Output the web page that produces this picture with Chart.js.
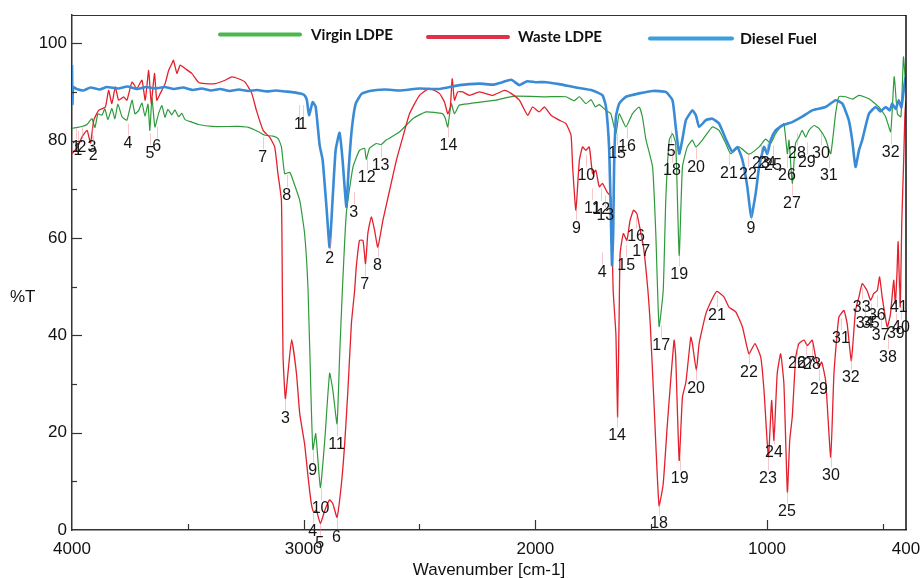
<!DOCTYPE html>
<html>
<head>
<meta charset="utf-8">
<script src="https://cdn.jsdelivr.net/npm/chart.js@4.4.1/dist/chart.umd.min.js"></script>
<style>
  html, body { margin: 0; padding: 0; background: #ffffff; }
  #wrap { width: 922px; height: 578px; position: relative; }
</style>
</head>
<body>
<div id="wrap"><canvas id="c" width="922" height="578"></canvas></div>
<script>
// ---------------- DATA ----------------
const seriesNames = ['Virgin LDPE', 'Waste LDPE', 'Diesel Fuel'];

const xTickValues = [4000, 3500, 3000, 2500, 2000, 1500, 1000, 500, 400];
const xTickLabels = ['4000', '', '3000', '', '2000', '', '1000', '', '400'];
const yTickValues = [0, 10, 20, 30, 40, 50, 60, 70, 80, 90, 100];
const yTickLabels = ['0', '', '20', '', '40', '', '60', '', '80', '', '100'];

// Virgin LDPE (green) : wavenumber / %T
const greenWn = [4000,3978,3957,3935,3914,3901,3888,3871,3858,3845,3828,3815,3802,3784,3763,3741,3728,3712,3698,3685,3672,3664,3655,3642,3626,3612,3599,3586,3569,3556,3540,3526,3512,3483,3454,3397,3281,3238,3195,3167,3132,3110,3096,3082,3060,3040,3017,2996,2981,2967,2960,2948,2928,2909,2888,2874,2856,2845,2833,2816,2787,2759,2737,2730,2716,2687,2665,2644,2586,2529,2471,2400,2388,2378,2363,2349,2328,2284,2169,2098,1954,1868,1832,1810,1782,1759,1741,1724,1695,1674,1652,1638,1609,1581,1552,1538,1523,1494,1480,1466,1448,1437,1422,1408,1394,1379,1365,1344,1322,1307,1279,1236,1207,1178,1157,1121,1078,1034,1006,984,963,941,927,912,905,891,877,862,848,833,819,797,776,747,725,704,690,661,630,603,560,517,488,466,451,437,422,411,404];
const greenT  = [82.5,82.7,82.9,83.3,84.5,82.7,85.5,85.2,86.5,84.3,86.6,84.5,87.5,84.9,84.2,88.3,85.5,86.2,87.7,85,87.5,82.1,88.7,82.8,85.6,87.2,84.8,86.4,85.3,86.3,84.9,85.6,84.3,83.8,83.3,82.9,82.9,82.7,81.8,81.1,80.9,80.4,78.7,73.2,73.5,71,67.7,60.9,49.2,25.2,16.5,19.8,8.7,18.4,32.2,28.7,21.8,35.5,49.2,65,74.6,78,78.4,76.1,78.4,79.4,79.2,80.1,81.8,84.5,85.9,85.5,84.5,82.8,87.6,85.5,87.3,87.6,88.3,89.1,89,89,88.2,89,87.6,88.4,86.9,87.4,86.2,85.5,81.4,85.5,82.8,85.5,86.9,84.9,80.3,74.6,60.9,41.8,49.2,67.7,80.1,81.4,79.4,56.4,74.6,78.7,80.1,78.7,80.1,82.8,82.1,79.4,77.3,78.7,77.2,78.7,80.3,79.4,81.4,82.8,83.5,77.3,80.1,71.2,79.4,80.7,82.1,80.7,82.1,83.1,82.5,80.3,77.3,85.5,89,89,88.5,89.3,88.6,86.9,84.9,81.8,93.1,85.5,84.9,97.2,93];

// Waste LDPE (red)
const redWn = [4000,3978,3957,3935,3920,3906,3885,3856,3842,3828,3813,3799,3777,3763,3741,3720,3698,3684,3669,3658,3644,3634,3619,3598,3583,3569,3562,3547,3533,3512,3483,3454,3425,3382,3339,3310,3281,3253,3224,3204,3175,3147,3125,3111,3096,3092,3089,3079,3068,3052,3031,3017,2996,2981,2967,2957,2945,2928,2909,2888,2874,2856,2837,2823,2809,2794,2780,2773,2759,2744,2733,2723,2708,2694,2680,2658,2629,2600,2572,2543,2500,2457,2414,2392,2378,2367,2359,2349,2335,2313,2284,2241,2184,2134,2105,2069,2033,2012,1983,1961,1932,1897,1868,1846,1839,1825,1810,1796,1782,1767,1753,1739,1724,1710,1690,1674,1664,1652,1645,1638,1634,1620,1605,1591,1576,1562,1547,1533,1514,1504,1487,1466,1448,1430,1401,1394,1379,1365,1350,1329,1322,1305,1293,1264,1236,1216,1186,1164,1135,1106,1078,1052,1027,1013,994,980,970,956,941,927,912,902,891,876,862,840,826,805,790,776,764,747,725,711,690,668,654,636,618,603,589,568,553,539,524,514,503,481,467,453,446,439,434,425,418,410,405,401];
const redT  = [77.3,78.5,80.7,82.1,79.5,84.2,86.2,86.9,90.3,87.6,91,88.3,89,88.3,92,90.7,92.4,88.3,94.4,87.6,93.8,88.3,89.7,91.7,94.4,95.8,96.5,93.8,95.5,94.8,93.8,92,91.7,91.7,92.4,93.1,92.7,92,89.7,86.2,82.1,80.7,78.7,73.2,67.7,49.2,35.5,27,32.1,39.1,32.1,23.9,17.7,10.9,5.4,3.7,4,1.3,4,6.2,5.4,2.6,9.5,17.7,28.7,42.4,49.2,54,59.5,59.5,54.7,60.9,64.3,61.6,58.1,63.6,69.8,75.9,80.7,85.5,89.3,90.7,89.7,87.9,85.5,86.9,92.7,88.3,90,90,89.3,90,89.3,90.3,89.7,88.3,85.2,86.9,85.9,86.9,85.2,84.2,83.5,81.1,74.6,65.7,75.9,78.7,78,78.7,73.2,73.9,70.5,71.2,69.4,68.4,49.2,40,23.2,45,56.8,60.9,59.5,63.6,65.7,65,61.6,58.1,49.2,42.4,25.2,5.0,9.5,21.8,39,35.5,14.3,27.3,30.4,39.6,38.3,32.8,38.3,44.4,47.5,49,47.9,45.8,44.8,41.7,36.2,38.3,35.5,28.7,15.0,26.6,18.4,32.1,36.2,30,7.8,18.4,23.2,35.5,38.3,39,37.9,39,35.5,33.5,34.5,30.7,15.0,32.1,43.7,45.1,42.4,34.8,45.1,47.9,50.6,49.2,47.2,48.6,49.2,52,47.9,41.7,44.4,51.3,46.5,52.7,59.2,45.8,63.6,75.9,85,88];

// Diesel Fuel (blue)
const blueWn = [4000,3998,3995,3980,3950,3920,3880,3850,3800,3760,3720,3680,3640,3600,3560,3520,3480,3440,3400,3360,3320,3280,3240,3200,3160,3120,3080,3040,3010,2996,2986,2977,2961,2948,2931,2918,2901,2888,2875,2862,2845,2832,2816,2806,2793,2776,2750,2716,2650,2586,2500,2414,2328,2241,2180,2142,2104,2069,2035,2000,1954,1897,1825,1753,1710,1695,1681,1674,1669,1664,1660,1652,1638,1609,1552,1494,1437,1408,1394,1379,1365,1350,1322,1307,1293,1264,1236,1207,1178,1150,1128,1106,1085,1068,1049,1034,1013,999,984,963,934,891,848,805,747,704,675,647,632,618,603,589,560,531,510,488,470,460,445,431,420,410,402];
const blueT  = [95.5,87.5,91,90.6,90.3,90.9,90.5,91,90.7,91.1,90.6,91,90.7,91,90.6,90.9,90.4,90.7,90.3,90.6,90.2,90.5,90.2,90.4,90.1,90.3,90.1,89.9,89.6,89.3,88.3,85.2,87.9,86.9,79,76,66,58.1,68,78,81.6,76,66.4,74,82,87.5,89.6,90.2,90.5,90.3,90.7,90.6,91.4,91.7,91.5,92,92.5,91.4,92.2,92,92,91.6,90.9,90.3,89.3,86.9,78,64.3,54.4,60.9,74.6,84.9,87.6,89,89.7,90.2,90,88.3,82.8,77.3,80.3,84.2,86.2,85.2,82.8,84.2,84.5,83.5,80.3,77.7,78.7,76,70.5,64.3,69.1,74.6,78.7,77.3,80.1,82.1,83.1,83.8,84.9,86.2,86.9,88.3,87.6,84.2,80,74.6,78,80.1,85.5,86.9,86,86.9,86.2,87.6,86.5,88.3,86.8,90.3,93.1];

// Peak annotations (number, label wavenumber, label %T)
const greenPeakNum = ['1','2','3','4','5','6','7','8','9','10','11','12','13','14','15','16','17','18','19','20','21','22','23','24','25','26','27','28','29','30','31','32'];
const greenPeakWn  = [3983,3957,3914,3759,3664,3634,3177,3073,2961,2927,2858,2728,2668,2375,1647,1604,1457,1410,1379,1306,1164,1082,1026,1000,974,914,892,871,828,767,733,466];
const greenPeakT   = [78.6,78.6,78.6,79.4,77.4,78.8,76.6,68.8,12.2,4.4,17.6,72.3,74.9,79.0,77.4,78.8,37.9,73.9,52.5,74.5,73.3,73.0,75.3,75.3,74.9,72.8,67.1,77.4,75.5,77.4,72.8,77.6];

const redPeakNum = ['1','2','3','4','5','6','7','8','9','10','11','12','13','14','15','16','17','18','19','20','21','22','23','24','25','26','27','28','29','30','31','32','33','34','35','36','37','38','39','40','41'];
const redPeakWn  = [3974,3909,3079,2961,2931,2858,2737,2681,1823,1780,1754,1716,1698,1647,1608,1565,1543,1466,1377,1306,1216,1078,996,970,914,871,832,806,776,724,681,638,591,578,552,526,509,478,444,422,431];
const redPeakT   = [77.9,76.9,22.9,-0.3,-2.8,-1.5,50.5,54.4,62.0,72.9,66.1,65.9,64.6,19.4,54.4,60.3,57.2,1.3,10.6,29.1,44.1,32.4,10.6,15.9,3.8,34.2,34.2,34.0,28.9,11.2,39.4,31.3,45.7,42.4,42.4,44.1,40.0,35.5,40.4,41.6,45.7];

const bluePeakNum = ['1','1','2','3','4','5','9'];
const bluePeakWn  = [3022,3004,2888,2784,1711,1414,1069];
const bluePeakT   = [83.2,83.2,55.8,65.3,52.9,77.8,62.0];

// ---------------- CHART ----------------
const toPts = (xs, ys) => xs.map((x, i) => ({ x: x, y: ys[i] }));
const FONT = '"Liberation Sans", Arial, sans-serif';

const tickMarksPlugin = {
  id: 'tickMarks',
  afterDraw(chart) {
    const { ctx, chartArea: a, scales: { x, y } } = chart;
    ctx.save();
    ctx.strokeStyle = '#333';
    ctx.lineWidth = 1.2;
    ctx.beginPath();
    ctx.moveTo(a.left, a.top + 0.5); ctx.lineTo(a.right, a.top + 0.5);
    ctx.stroke();
    ctx.beginPath();
    ctx.strokeStyle = '#111';
    ctx.lineWidth = 1.5;
    ctx.moveTo(a.right, a.top); ctx.lineTo(a.right, a.bottom);
    ctx.stroke();
    ctx.strokeStyle = '#333';
    ctx.lineWidth = 1.2;
    xTickValues.forEach(v => {
      if (v === 400 || v === 4000) return;
      const px = Math.round(x.getPixelForValue(v)) + 0.5;
      const len = (v % 1000 === 0) ? 10 : 6;
      ctx.beginPath(); ctx.moveTo(px, a.bottom); ctx.lineTo(px, a.bottom - len); ctx.stroke();
    });
    yTickValues.forEach(v => {
      if (v === 0) return;
      const py = Math.round(y.getPixelForValue(v)) + 0.5;
      const len = (v % 20 === 0) ? 10 : 5;
      ctx.beginPath(); ctx.moveTo(a.left, py); ctx.lineTo(a.left + len, py); ctx.stroke();
    });
    ctx.fillStyle = '#111';
    ctx.font = '17px ' + FONT;
    ctx.textBaseline = 'middle';
    ctx.textAlign = 'left';
    ctx.fillText('%T', 10, 297);
    ctx.textAlign = 'center';
    ctx.fillText('Wavenumber [cm-1]', 489, 570);
    ctx.restore();
  }
};

const peakPlugin = {
  id: 'peaks',
  afterDatasetsDraw(chart) {
    const { ctx, scales: { x, y } } = chart;
    ctx.save();
    ctx.font = '16px ' + FONT;
    ctx.textAlign = 'center';
    ctx.textBaseline = 'middle';
    const groups = [
      [greenPeakNum, greenPeakWn, greenPeakT],
      [redPeakNum, redPeakWn, redPeakT],
      [bluePeakNum, bluePeakWn, bluePeakT]
    ];
    groups.forEach(([nums, wns, ts]) => {
      nums.forEach((n, i) => {
        const px = x.getPixelForValue(wns[i]);
        const py = y.getPixelForValue(ts[i]);
        ctx.strokeStyle = 'rgba(238,130,140,0.45)';
        ctx.lineWidth = 1;
        ctx.beginPath();
        ctx.moveTo(Math.round(px) + 0.5, py - 20);
        ctx.lineTo(Math.round(px) + 0.5, py - 8);
        ctx.stroke();
        ctx.fillStyle = '#151515';
        ctx.fillText(n, px, py);
      });
    });
    ctx.restore();
  }
};

const legendPlugin = {
  id: 'customLegend',
  afterDraw(chart) {
    const { ctx } = chart;
    const slots = [
      { x0: 220, x1: 300, y: 34.5, tx: 311, tw: 82, color: '#4cb84c' },
      { x0: 428, x1: 508, y: 37, tx: 518, tw: 84, color: '#e0304c' },
      { x0: 650, x1: 732, y: 38.5, tx: 740, tw: 77, color: '#3a9fdc' }
    ];
    ctx.save();
    chart.data.datasets.slice().sort((a, b) => a.legendIndex - b.legendIndex).forEach((ds, i) => {
      const s = slots[i];
      ctx.strokeStyle = s.color;
      ctx.lineWidth = 4;
      ctx.lineCap = 'round';
      ctx.beginPath(); ctx.moveTo(s.x0, s.y); ctx.lineTo(s.x1, s.y); ctx.stroke();
      ctx.font = 'bold 16px Lato, "Open Sans", sans-serif';
      const w = ctx.measureText(ds.label).width;
      const size = 16 * s.tw / w;
      ctx.font = 'bold ' + size.toFixed(2) + 'px Lato, "Open Sans", sans-serif';
      ctx.fillStyle = '#111';
      ctx.textAlign = 'left';
      ctx.textBaseline = 'middle';
      ctx.fillText(ds.label, s.tx, s.y + 0.5);
    });
    ctx.restore();
  }
};

new Chart(document.getElementById('c'), {
  type: 'scatter',
  data: {
    datasets: [
      { label: seriesNames[2], legendIndex: 2, data: toPts(blueWn, blueT), showLine: true, borderColor: '#3a8bd5', borderWidth: 2.6, pointRadius: 0, tension: 0.15, order: 0 },
      { label: seriesNames[1], legendIndex: 1, data: toPts(redWn, redT), showLine: true, borderColor: '#e3202c', borderWidth: 1.3, pointRadius: 0, tension: 0.15, order: 1 },
      { label: seriesNames[0], legendIndex: 0, data: toPts(greenWn, greenT), showLine: true, borderColor: '#2f9a3c', borderWidth: 1.2, pointRadius: 0, tension: 0.15, order: 2 }
    ]
  },
  options: {
    responsive: false,
    animation: false,
    devicePixelRatio: 1,
    layout: { padding: { top: 15, right: 16, left: 0, bottom: 0 } },
    plugins: { legend: { display: false }, tooltip: { enabled: false }, title: { display: false } },
    scales: {
      x: {
        type: 'linear', reverse: true, min: 400, max: 4000,
        afterBuildTicks: s => { s.ticks = xTickValues.map(v => ({ value: v })); },
        afterFit: s => { s.height = 48; s.paddingLeft = 0; s.paddingRight = 0; },
        ticks: {
          autoSkip: false, maxRotation: 0, padding: 9, color: '#111',
          font: { size: 17, family: FONT },
          callback: v => xTickLabels[xTickValues.indexOf(v)] ?? ''
        },
        grid: { display: true, drawOnChartArea: false, drawTicks: false },
        border: { display: true, color: '#333', width: 1.5 }
      },
      y: {
        type: 'linear', min: 0, max: 105.8,
        afterBuildTicks: s => { s.ticks = yTickValues.map(v => ({ value: v })); },
        afterFit: s => { s.width = 72; s.paddingTop = 0; s.paddingBottom = 0; },
        ticks: {
          autoSkip: false, padding: 5, color: '#111',
          font: { size: 17, family: FONT },
          callback: v => yTickLabels[yTickValues.indexOf(v)] ?? ''
        },
        grid: { display: true, drawOnChartArea: false, drawTicks: false },
        border: { display: true, color: '#333', width: 1.5 }
      }
    }
  },
  plugins: [tickMarksPlugin, peakPlugin, legendPlugin]
});
</script>
</body>
</html>
